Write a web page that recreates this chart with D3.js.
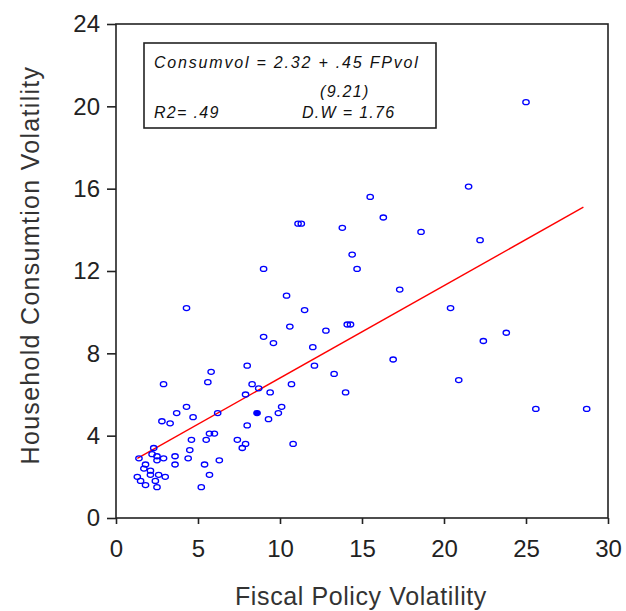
<!DOCTYPE html>
<html>
<head>
<meta charset="utf-8">
<script src="https://cdn.jsdelivr.net/npm/d3@7"></script>
<style>
  body { margin: 0; background: #fff; }
  text { font-family: "Liberation Sans", Arial, sans-serif; }
</style>
</head>
<body>
<div id="chart"></div>
<script>
// fiscal policy volatility (x) vs household consumption volatility (y)
var fpVol = [25.0, 21.5, 15.5, 11.1, 11.3, 16.3, 13.8, 18.6, 22.2, 14.4,
    14.7, 9.0, 17.3, 10.4, 11.5, 4.3, 20.4, 10.6, 12.8, 14.1,
    14.3, 23.8, 9.0, 9.6, 12.0, 22.4, 16.9, 12.1, 13.3, 8.0,
    5.8, 5.6, 2.9, 8.3, 8.7, 7.9, 9.4, 10.7, 14.0, 20.9,
    25.6, 28.7, 4.3, 3.7, 4.7, 6.2, 8.6, 9.3, 9.9, 10.1,
    8.0, 2.8, 3.3, 4.6, 5.5, 5.7, 6.0, 7.4, 7.9, 7.7,
    10.8, 4.5, 4.4, 6.3, 5.4, 5.7, 5.2, 1.4, 2.3, 2.2,
    2.5, 2.5, 2.9, 3.6, 3.6, 1.8, 1.7, 2.1, 2.1, 2.6,
    3.0, 1.3, 1.5, 1.8, 2.4, 2.5];
var consVol = [20.2, 16.1, 15.6, 14.3, 14.3, 14.6, 14.1, 13.9, 13.5, 12.8,
    12.1, 12.1, 11.1, 10.8, 10.1, 10.2, 10.2, 9.3, 9.1, 9.4,
    9.4, 9.0, 8.8, 8.5, 8.3, 8.6, 7.7, 7.4, 7.0, 7.4,
    7.1, 6.6, 6.5, 6.5, 6.3, 6.0, 6.1, 6.5, 6.1, 6.7,
    5.3, 5.3, 5.4, 5.1, 4.9, 5.1, 5.1, 4.8, 5.1, 5.4,
    4.5, 4.7, 4.6, 3.8, 3.8, 4.1, 4.1, 3.8, 3.6, 3.4,
    3.6, 3.3, 2.9, 2.8, 2.6, 2.1, 1.5, 2.9, 3.4, 3.1,
    3.0, 2.8, 2.9, 3.0, 2.6, 2.6, 2.4, 2.3, 2.1, 2.1,
    2.0, 2.0, 1.8, 1.6, 1.8, 1.5];
var filledIdx = [46]; // the one solid marker

// fitted line end points
var fitX = [1.3, 28.5];
var fitY = [2.9, 15.1];

var xTicks = [0, 5, 10, 15, 20, 25, 30];
var yTicks = [0, 4, 8, 12, 16, 20, 24];

var eqLines = ["Consumvol = 2.32 + .45 FPvol", "(9.21)", "R2= .49", "D.W = 1.76"];

var data = fpVol.map(function(d, i) {
    return {x: d, y: consVol[i], filled: filledIdx.indexOf(i) >= 0};
});

var outerWidth = 626, outerHeight = 611;
var margin = {left: 116, right: 608, top: 24, bottom: 518};

var svg = d3.select("#chart")
    .append("svg")
    .attr("width", outerWidth)
    .attr("height", outerHeight);

var xScale = d3.scaleLinear().domain([0, 30]).range([margin.left, margin.right]);
var yScale = d3.scaleLinear().domain([0, 24]).range([margin.bottom, margin.top]);

// frame
svg.append("rect")
    .attr("x", margin.left).attr("y", margin.top)
    .attr("width", margin.right - margin.left).attr("height", margin.bottom - margin.top)
    .attr("fill", "none")
    .attr("stroke", "#222")
    .attr("stroke-width", 1.6);

var xAxis = d3.axisBottom(xScale).tickValues(xTicks).tickSize(6).tickPadding(16);
svg.append("g")
    .attr("class", "axis x-axis")
    .attr("transform", "translate(0," + margin.bottom + ")")
    .call(xAxis);

var yAxis = d3.axisLeft(yScale).tickValues(yTicks).tickSize(9).tickPadding(7);
svg.append("g")
    .attr("class", "axis y-axis")
    .attr("transform", "translate(" + margin.left + ",0)")
    .call(yAxis);

svg.selectAll(".axis .domain").remove();
svg.selectAll(".axis line").attr("stroke", "#222").attr("stroke-width", 1.6);
svg.selectAll(".axis text")
    .attr("fill", "#222")
    .style("font-size", "24px")
    .style("font-family", "'Liberation Sans', Arial, sans-serif");

// axis titles
svg.append("text")
    .attr("x", (margin.left + margin.right) / 2 - 1)
    .attr("y", 605)
    .attr("text-anchor", "middle")
    .attr("fill", "#333")
    .style("font-size", "25px")
    .style("letter-spacing", "0.6px")
    .text("Fiscal Policy Volatility");

svg.append("text")
    .attr("transform", "translate(39," + ((margin.top + margin.bottom) / 2 - 6) + ") rotate(-90)")
    .attr("text-anchor", "middle")
    .attr("fill", "#333")
    .style("font-size", "25px")
    .style("letter-spacing", "1.3px")
    .text("Household Consumtion Volatility");

// equation box
svg.append("rect")
    .attr("x", 144).attr("y", 43)
    .attr("width", 292).attr("height", 85)
    .attr("fill", "#fff")
    .attr("stroke", "#222")
    .attr("stroke-width", 1.6);

var eqPos = [[154, 68], [320, 97], [154, 118], [302, 118]];
var eqSpacing = [1.8, 1.3, 1.3, 1.3];
svg.selectAll(".eq")
    .data(eqLines)
    .enter()
    .append("text")
    .attr("class", "eq")
    .attr("x", function(d, i) { return eqPos[i][0]; })
    .attr("y", function(d, i) { return eqPos[i][1]; })
    .attr("fill", "#111")
    .style("font-size", "16px")
    .style("font-style", "italic")
    .style("letter-spacing", function(d, i) { return eqSpacing[i] + "px"; })
    .text(function(d) { return d; });

// regression line
var line = d3.line()
    .x(function(d) { return xScale(d[0]); })
    .y(function(d) { return yScale(d[1]); });

svg.append("path")
    .datum(fitX.map(function(d, i) { return [d, fitY[i]]; }))
    .attr("d", line)
    .attr("fill", "none")
    .attr("stroke", "#ff0000")
    .attr("stroke-width", 1.4);

// points
svg.selectAll(".pt")
    .data(data)
    .enter()
    .append("ellipse")
    .attr("class", "pt")
    .attr("cx", function(d) { return xScale(d.x); })
    .attr("cy", function(d) { return yScale(d.y); })
    .attr("rx", 3.2)
    .attr("ry", 2.5)
    .attr("fill", function(d) { return d.filled ? "#0000ff" : "none"; })
    .attr("stroke", "#0000ff")
    .attr("stroke-width", 1.3);
</script>
</body>
</html>
